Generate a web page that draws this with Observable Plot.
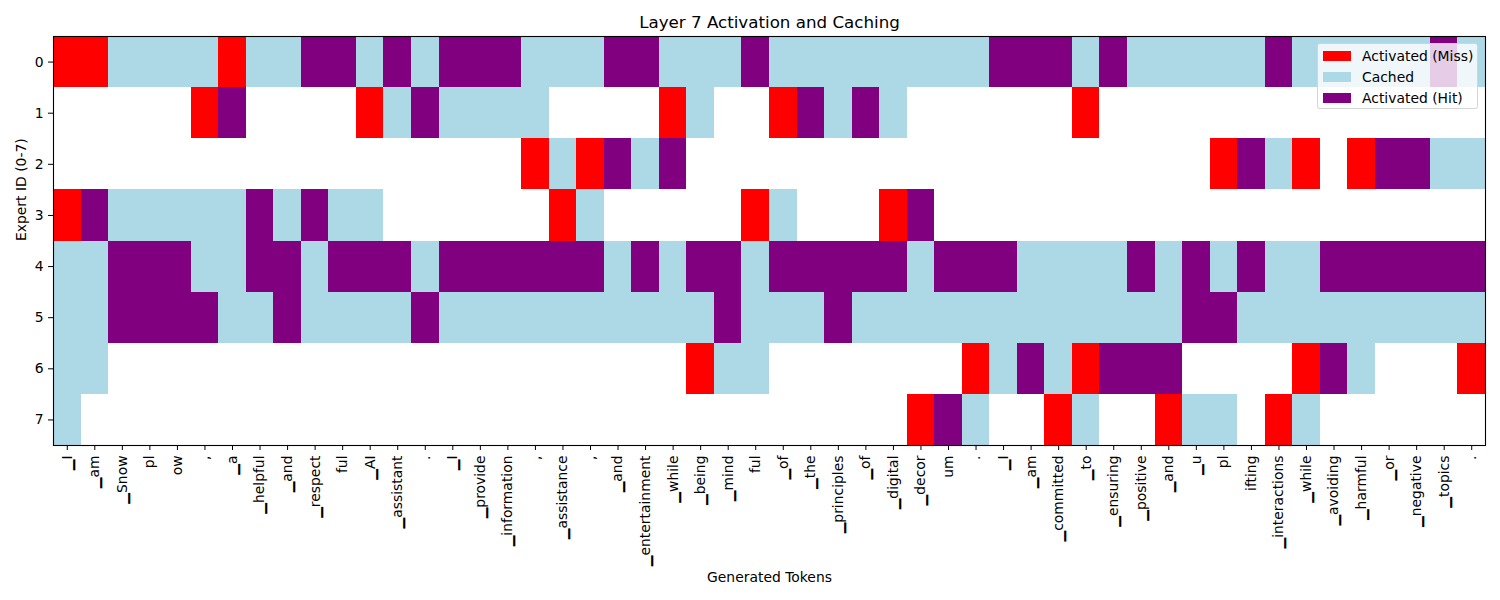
<!DOCTYPE html>
<html><head><meta charset="utf-8">
<script src="https://cdn.jsdelivr.net/npm/d3@7"></script>
<script src="https://cdn.jsdelivr.net/npm/@observablehq/plot@0.6"></script>
<style>
body{margin:0;background:#fff;font-family:"DejaVu Sans",sans-serif;}
#wrap{position:relative;width:1500px;height:600px;}
#legend{position:absolute;left:1317px;top:43px;width:159px;height:64px;background:rgba(255,255,255,0.8);border:1px solid rgba(204,204,204,0.8);border-radius:3px;font-size:13.9px;color:#000;}
#legend .row{position:absolute;left:0;height:20px;display:flex;align-items:center;}
#legend .sw{width:28px;height:10px;margin-left:5px;margin-right:11px;}
</style>
</head><body>
<div id="wrap"></div>
<script>
const tokens = ["▁I","▁am","▁Snow","pl","ow",",","▁a","▁helpful","▁and","▁respect","ful","▁AI","▁assistant",".","▁I","▁provide","▁information",",","▁assistance",",","▁and","▁entertainment","▁while","▁being","▁mind","ful","▁of","▁the","▁principles","▁of","▁digital","▁decor","um",".","▁I","▁am","▁committed","▁to","▁ensuring","▁positive","▁and","▁u","pl","ifting","▁interactions","▁while","▁avoiding","▁harmful","▁or","▁negative","▁topics","."];
const experts = [0,1,2,3,4,5,6,7];
// M = Activated (Miss), C = Cached, H = Activated (Hit), . = none; "|" every 10 tokens
const expertStatus = [
  "MMCCCCMCCH|HCHCHHHCCC|HHCCCHCCCC|CCCCHHHCHC|CCCCHCCCCC|HC",
  ".....MH...|.MCHCCCC..|..MC..MHCH|C......M..|..........|..",
  "..........|.......MCM|HCH.......|..........|..MHCM.MHH|CC",
  "MHCCCCCHCH|CC......MC|.....MC...|MH........|..........|..",
  "CCHHHCCHHC|HHHCHHHHHH|CHCHHCHHHH|HCHHHCCCCH|CHCHCCHHHH|HH",
  "CCHHHHCCHC|CCCHCCCCCC|CCCCHCCCHC|CCCCCCCCCC|CHHCCCCCCC|CC",
  "CC........|..........|...MCC....|...MCHCMHH|H....MHC..|.M",
  "C.........|..........|..........|.MHC..MC..|MCC.MC....|.."
];
const statusKeys = ["M","C","H"];
const statusNames = ["Activated (Miss)","Cached","Activated (Hit)"];
const statusColors = ["red","lightblue","purple"];

const cells = [];
experts.forEach(e => {
  const row = expertStatus[e].replaceAll("|","");
  for (let t = 0; t < row.length; t++) {
    const k = statusKeys.indexOf(row[t]);
    if (k >= 0) cells.push({token: t, expert: e, status: statusNames[k]});
  }
});

const plot = Plot.plot({
  width: 1500, height: 600,
  marginTop: 36, marginBottom: 155, marginLeft: 53, marginRight: 15,
  style: {fontFamily: "DejaVu Sans", fontSize: "13.9px", color: "black", background: "white"},
  x: {type: "band", domain: tokens.map((d, i) => i), padding: 0, round: false, axis: null},
  y: {type: "band", domain: experts, padding: 0, round: false, axis: null},
  color: {domain: statusNames, range: statusColors},
  marks: [
    Plot.cell(cells, {x: "token", y: "expert", fill: "status", shapeRendering: "crispEdges"}),
    Plot.frame({stroke: "black", strokeWidth: 1.1}),
    Plot.axisX({tickRotate: -90, tickSize: 5, tickPadding: 5, tickFormat: i => tokens[i], label: null}),
    Plot.axisY({tickSize: 5, tickPadding: 5, label: null}),
    Plot.text(["Layer 7 Activation and Caching"], {text: d => d, frameAnchor: "top", lineAnchor: "middle", dy: -14, fontSize: 16.7}),
    Plot.text(["Generated Tokens"], {text: d => d, frameAnchor: "bottom", lineAnchor: "middle", dy: 132}),
    Plot.text(["Expert ID (0-7)"], {text: d => d, frameAnchor: "left", rotate: -90, dx: -32})
  ]
});
const wrap = document.getElementById("wrap");
wrap.appendChild(plot);

const legend = document.createElement("div");
legend.id = "legend";
statusNames.forEach((name, i) => {
  const row = document.createElement("div");
  row.className = "row";
  row.style.top = (2 + i * 21) + "px";
  const sw = document.createElement("div");
  sw.className = "sw";
  sw.style.background = statusColors[i];
  const lab = document.createElement("span");
  lab.textContent = name;
  row.appendChild(sw); row.appendChild(lab);
  legend.appendChild(row);
});
wrap.appendChild(legend);
</script>
</body></html>
